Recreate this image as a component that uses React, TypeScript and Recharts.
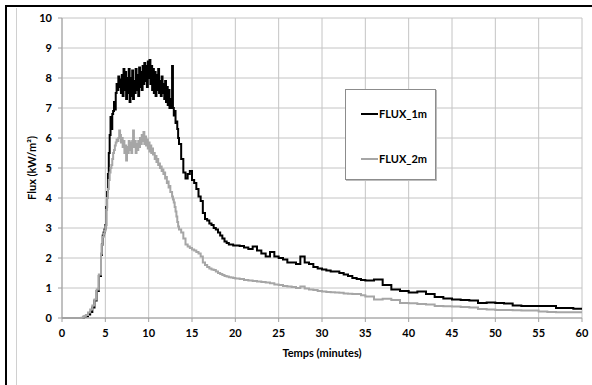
import { CartesianGrid, Line, LineChart, XAxis, YAxis } from "recharts";

// time in minutes (denser where the signal is noisy)
const minutes = [
  0, 2, 2.25, 2.5, 2.75, 3, 3.25, 3.5, 3.75, 4, 4.25, 4.5,
  4.6, 4.7, 4.8, 4.9, 5.0, 5.1, 5.2, 5.3, 5.4, 5.5,
  5.6, 5.7, 5.8, 5.9, 6.0, 6.1, 6.2, 6.3, 6.4, 6.5,
  6.6, 6.7, 6.8, 6.9, 7.0, 7.1, 7.2, 7.3, 7.4, 7.5,
  7.6, 7.7, 7.8, 7.9, 8.0, 8.1, 8.2, 8.3, 8.4, 8.5,
  8.6, 8.7, 8.8, 8.9, 9.0, 9.1, 9.2, 9.3, 9.4, 9.5,
  9.6, 9.7, 9.8, 9.9, 10.0, 10.1, 10.2, 10.3, 10.4, 10.5,
  10.6, 10.7, 10.8, 10.9, 11.0, 11.1, 11.2, 11.3, 11.4, 11.5,
  11.6, 11.7, 11.8, 11.9, 12.0, 12.1, 12.2, 12.3, 12.4, 12.5,
  12.6, 12.7, 12.8, 12.9, 13.0, 13.1, 13.2, 13.3, 13.4, 13.5,
  13.75, 14, 14.25, 14.5, 14.75, 15, 15.25, 15.5, 15.75, 16,
  16.25, 16.5, 16.75, 17, 17.25, 17.5, 17.75, 18, 18.25, 18.5,
  18.75, 19, 19.25, 19.5, 19.75, 20,
  20.5, 21, 21.5, 22, 22.5, 23, 23.5, 24, 24.5, 25,
  25.5, 26, 26.5, 27, 27.5, 28, 28.5, 29, 29.5, 30,
  30.5, 31, 31.5, 32, 32.5, 33, 33.5, 34, 34.5, 35,
  36, 37, 38, 39, 40, 41, 42, 43, 44, 45,
  46, 47, 48, 49, 50, 51, 52, 53, 54, 55,
  56, 57, 58, 59, 60,
];

const flux1m = [
  0, 0, 0, 0.04, 0.06, 0.12, 0.2, 0.35, 0.58, 0.9, 1.4, 2.1,
  2.45, 2.75, 2.85, 2.95, 3.1, 3.7, 4.2, 4.8, 5.5, 6.1,
  6.7, 6.3, 6.8, 6.9, 7.2, 6.95, 7.5, 7.8, 7.6, 8.05,
  7.7, 7.95, 7.5, 8.1, 7.4, 8.3, 7.6, 8.2, 7.3, 8.0,
  7.5, 8.3, 7.2, 8.0, 7.4, 8.25, 7.3, 7.9, 7.5, 8.3,
  7.6, 8.1, 7.4, 8.35, 7.7, 8.2, 7.6, 8.4, 7.8, 8.5,
  7.9, 8.4, 7.7, 8.55, 8.0, 8.6, 7.8, 8.4, 7.6, 8.3,
  7.5, 8.2, 7.4, 8.1, 7.6, 8.3, 7.5, 7.9, 7.4, 8.05,
  7.5, 7.8, 7.3, 7.9, 7.2, 7.7, 7.1, 7.6, 7.0, 7.3,
  7.0, 8.4, 7.0, 6.75, 6.9, 6.5, 6.55, 6.3, 6.0, 5.8,
  5.3, 4.85, 4.65, 4.8, 4.9, 4.6, 4.5, 4.3, 4.05, 3.9,
  3.5, 3.3, 3.25, 3.15, 3.1, 3.0, 2.95, 2.85, 2.75, 2.65,
  2.55, 2.5, 2.45, 2.45, 2.42, 2.42,
  2.4, 2.35, 2.3, 2.38, 2.25, 2.15, 2.05, 2.2, 2.05, 2.0,
  1.95, 1.85, 1.85, 1.8, 2.05, 1.85, 1.8, 1.7, 1.65, 1.62,
  1.58, 1.55, 1.55, 1.5, 1.45, 1.4, 1.33, 1.3, 1.27, 1.25,
  1.28, 1.1, 0.95, 0.9, 0.85, 0.88, 0.8, 0.7, 0.65, 0.62,
  0.6, 0.58, 0.5, 0.52, 0.5, 0.48, 0.42, 0.4, 0.4, 0.4,
  0.4, 0.33, 0.33, 0.31, 0.31,
];

const flux2m = [
  0, 0, 0.01, 0.05, 0.1, 0.18, 0.28, 0.42, 0.62, 0.95, 1.45, 2.15,
  2.45, 2.7, 2.8, 2.9, 3.05, 3.6, 4.0, 4.3, 4.6, 4.85,
  5.0, 5.1, 5.3, 5.5, 5.6, 5.75, 5.85, 5.95, 5.9, 6.0,
  6.25, 6.1, 5.85, 6.0, 5.7, 5.9, 5.5, 5.75, 5.25, 5.7,
  5.5, 5.9, 5.6, 5.85, 5.5, 5.9, 6.25, 5.7, 5.9, 5.5,
  5.8, 5.6, 5.9, 5.7, 6.0, 5.8, 6.1, 5.9, 6.2, 5.8,
  6.05, 5.75, 5.95, 5.65, 5.85, 5.55, 5.75, 5.5, 5.65, 5.45,
  5.5, 5.3, 5.4, 5.2, 5.3, 5.1, 5.15, 5.0, 5.05, 4.9,
  4.95, 4.8, 4.85, 4.65, 4.7, 4.5, 4.55, 4.35, 4.4, 4.2,
  4.2, 4.05, 3.95, 3.85, 3.7, 3.55, 3.38, 3.2, 3.05, 2.95,
  2.85, 2.65, 2.45, 2.38, 2.33, 2.28, 2.25, 2.2, 2.15, 2.05,
  1.85, 1.77, 1.7, 1.65, 1.62, 1.6, 1.55, 1.5, 1.47, 1.43,
  1.4, 1.38, 1.36, 1.35, 1.33, 1.32,
  1.3, 1.27, 1.25, 1.23, 1.22, 1.2, 1.18, 1.16, 1.12, 1.1,
  1.07, 1.05, 1.03, 1.0, 1.05, 0.98, 0.95, 0.93, 0.9, 0.88,
  0.87, 0.86, 0.85, 0.84, 0.82, 0.81, 0.8, 0.8, 0.76, 0.72,
  0.62, 0.64, 0.6, 0.5, 0.49, 0.47, 0.45, 0.4, 0.39, 0.38,
  0.37, 0.35, 0.3, 0.28, 0.27, 0.27, 0.26, 0.25, 0.25, 0.22,
  0.2, 0.19, 0.19, 0.19, 0.19,
];

const xTicks = [0, 5, 10, 15, 20, 25, 30, 35, 40, 45, 50, 55, 60];
const yTicks = [0, 1, 2, 3, 4, 5, 6, 7, 8, 9, 10];

const series = [
  { key: "flux1m", name: "FLUX_1m", color: "#000000" },
  { key: "flux2m", name: "FLUX_2m", color: "#a6a6a6" },
];

const data = minutes.map((t, i) => ({ t, flux1m: flux1m[i], flux2m: flux2m[i] }));

const font = "Lato, 'Open Sans', sans-serif";
const gridStroke = "#c4c4c4";
const tickStyle = { fontSize: 11, fontWeight: 700, fill: "#000", fontFamily: font };

// legend drawn as an overlay so it doesn't steal plot space
function LegendBox() {
  return (
    <div
      style={{
        position: "absolute",
        left: 345,
        top: 89,
        width: 91,
        height: 91,
        boxSizing: "border-box",
        border: "1px solid #8c8c8c",
        boxShadow: "1px 1px 0 #bdbdbd",
        background: "#fff",
        fontFamily: font,
        fontSize: 11,
        fontWeight: 700,
      }}
    >
      {series.map((s, i) => (
        <div
          key={s.key}
          style={{
            position: "absolute",
            left: 15,
            top: i === 0 ? 17 : 62,
            display: "flex",
            alignItems: "center",
            lineHeight: "14px",
          }}
        >
          <span style={{ display: "inline-block", width: 17, height: 2, background: s.color }} />
          <span style={{ marginLeft: 1 }}>{s.name}</span>
        </div>
      ))}
    </div>
  );
}

export default function App() {
  return (
    <div style={{ position: "absolute", left: 0, top: 0, width: 592, height: 385, background: "#fff" }}>
      <div style={{ position: "absolute", left: 5, top: 5, width: 587, height: 2, background: "#000" }} />
      <div style={{ position: "absolute", left: 5, top: 5, width: 2, height: 380, background: "#000" }} />
      <div style={{ position: "absolute", left: 16, top: 8, width: 1, height: 377, background: "#d0d0d0" }} />
      <div style={{ position: "absolute", left: 0, top: 0 }}>
        <LineChart width={592} height={385} data={data} margin={{ top: 18, right: 10, bottom: 22, left: 0 }}>
          <CartesianGrid stroke={gridStroke} strokeWidth={1} />
          <XAxis
            dataKey="t"
            type="number"
            domain={[0, 60]}
            ticks={xTicks}
            interval={0}
            stroke="#a0a0a0"
            tickSize={4}
            tickMargin={7}
            height={45}
            tick={tickStyle}
            label={{
              value: "Temps (minutes)",
              position: "insideBottom",
              offset: 6,
              style: { fontSize: 11, fontWeight: 700, fill: "#000", fontFamily: font },
            }}
          />
          <YAxis
            type="number"
            domain={[0, 10]}
            ticks={yTicks}
            interval={0}
            width={62}
            stroke="#a0a0a0"
            tickSize={4}
            tickMargin={6}
            tick={tickStyle}
            label={{
              value: "Flux (kW/m²)",
              angle: -90,
              position: "center",
              dx: 1,
              style: { fontSize: 11, fontWeight: 700, fill: "#000", fontFamily: font },
            }}
          />
          {series.map((s) => (
            <Line
              key={s.key}
              type="stepAfter"
              dataKey={s.key}
              name={s.name}
              stroke={s.color}
              strokeWidth={2}
              dot={false}
              isAnimationActive={false}
            />
          ))}
        </LineChart>
      </div>
      <LegendBox />
    </div>
  );
}
